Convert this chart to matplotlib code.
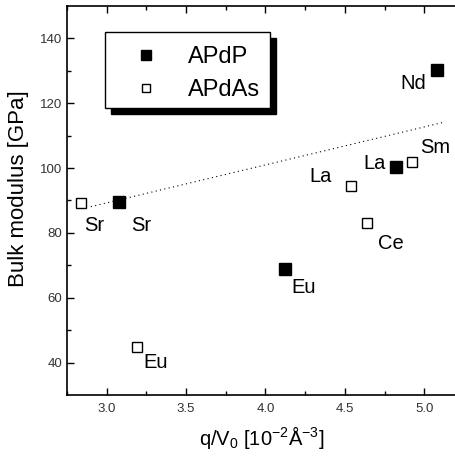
import matplotlib
matplotlib.use("Agg")
import matplotlib.pyplot as plt
from matplotlib.patches import Rectangle

plt.rcParams['font.family'] = ['Liberation Sans', 'DejaVu Sans']
plt.rcParams['mathtext.default'] = 'regular'

# Data
apdp_labels = ["Sr", "Eu", "La", "Nd"]
apdp_x = [3.08, 4.12, 4.82, 5.08]
apdp_y = [89.4, 68.8, 100.2, 130.3]

apdas_labels = ["Sr", "Eu", "La", "Ce", "Sm"]
apdas_x = [2.84, 3.19, 4.54, 4.64, 4.92]
apdas_y = [89.2, 44.8, 94.5, 83.2, 102.0]

fit_x = [2.90, 5.12]
fit_y = [88.1, 114.1]

# label anchor positions (data coords)
apdp_label_pos = [(3.22, 82.4), (4.24, 63.2), (4.69, 101.5), (4.93, 126.2)]
apdas_label_pos = [(2.92, 82.4), (3.31, 39.9), (4.35, 97.5), (4.79, 76.6), (5.07, 106.4)]

xticks = [3.0, 3.5, 4.0, 4.5, 5.0]
yticks = [40, 60, 80, 100, 120, 140]

fig = plt.figure(figsize=(4.56, 4.61), dpi=100)
ax = fig.add_axes([67/456, 1-395/461, 389/456, 389/461])

ax.plot(fit_x, fit_y, linestyle=(0, (1, 3)), color='black', linewidth=0.8)
ax.plot(apdp_x, apdp_y, linestyle='none', marker='s', markersize=8,
        markerfacecolor='black', markeredgecolor='black', label='APdP', zorder=3)
ax.plot(apdas_x, apdas_y, linestyle='none', marker='s', markersize=7.5,
        markerfacecolor='white', markeredgecolor='black', markeredgewidth=1.0,
        label='APdAs', zorder=3)

for lab, (px, py) in zip(apdp_labels, apdp_label_pos):
    ax.text(px, py, lab, ha='center', va='center', fontsize=14.5)
for lab, (px, py) in zip(apdas_labels, apdas_label_pos):
    ax.text(px, py, lab, ha='center', va='center', fontsize=14.5)

ax.set_xlim(2.75, 5.2)
ax.set_ylim(30, 150)
ax.set_xticks(xticks)
ax.set_xticklabels([f"{t:.1f}" for t in xticks])
ax.set_yticks(yticks)
ax.set_xticks([2.75 + 0.25 * i for i in range(10) if (2.75 + 0.25 * i) not in xticks], minor=True)
ax.set_yticks([50, 70, 90, 110, 130], minor=True)
ax.tick_params(which='both', direction='in', top=True, right=False,
               labelsize=9.5, labelcolor='#333333')
ax.tick_params(which='major', length=5, width=1)
ax.tick_params(which='minor', length=3, width=1)
ax.tick_params(axis='x', pad=6)
ax.spines['right'].set_visible(False)
for s in ['left', 'bottom', 'top']:
    ax.spines[s].set_linewidth(1.2)

ax.set_xlabel("q/V$_0$ [10$^{-2}$Å$^{-3}$]", fontsize=14.5, labelpad=6)
ax.set_ylabel("Bulk modulus [GPa]", fontsize=16)
ax.yaxis.set_label_coords(-0.097, 0.531)

# legend frame with shadow
bx0, bx1 = 0.0977, 0.522
by0, by1 = 0.738, 0.933
off_x, off_y = 6/389, 6/389
ax.add_patch(Rectangle((bx0 + off_x, by0 - off_y), bx1 - bx0, by1 - by0,
                       transform=ax.transAxes, facecolor='black', edgecolor='black', zorder=4))
ax.add_patch(Rectangle((bx0, by0), bx1 - bx0, by1 - by0,
                       transform=ax.transAxes, facecolor='white', edgecolor='black',
                       linewidth=1.0, zorder=5))
leg = ax.legend(loc='center left', bbox_to_anchor=(0.175, 0.826), frameon=False,
                fontsize=17, handlelength=0.9, handletextpad=1.35, labelspacing=0.48,
                borderpad=0, borderaxespad=0, markerscale=0.85)
leg.set_zorder(6)

fig.savefig("out.png", dpi=100)
